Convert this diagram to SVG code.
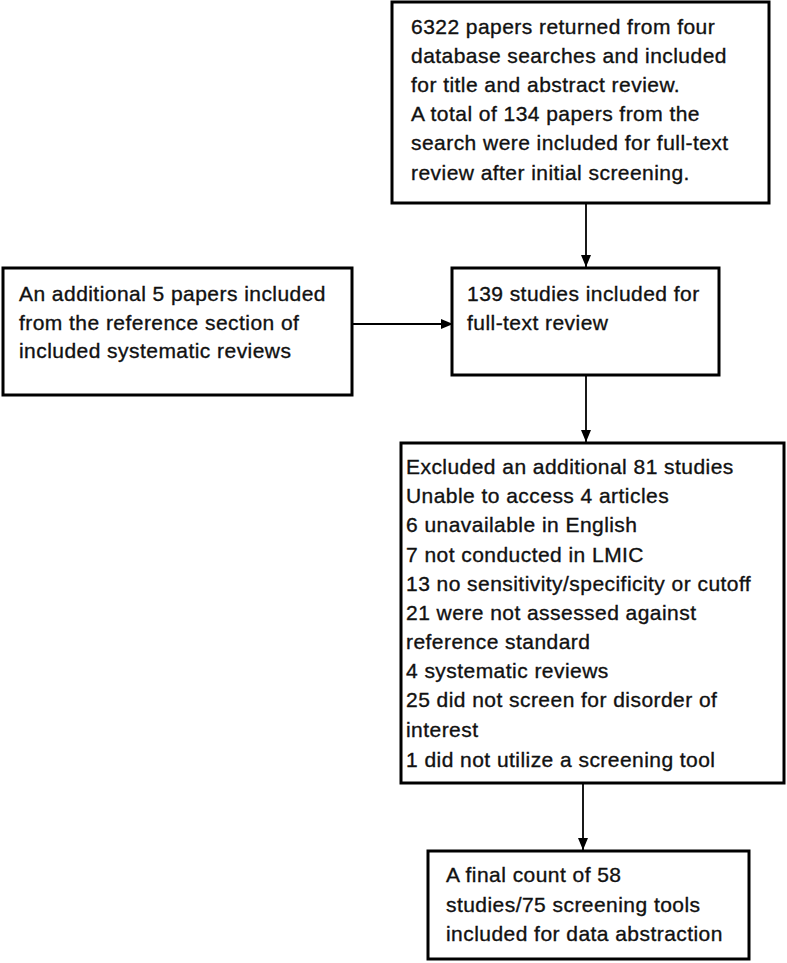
<svg xmlns="http://www.w3.org/2000/svg" width="787" height="963" viewBox="0 0 787 963">
<style>
.box{fill:#ffffff;stroke:#000000;stroke-width:3}
.t{font-family:"Liberation Sans",Arial,sans-serif;font-size:21px;letter-spacing:0.45px;fill:#111111;stroke:#111111;stroke-width:0.35px}
.c{stroke:#000000;stroke-width:1.8;fill:none}
</style>
<defs>
<marker id="ah" markerUnits="userSpaceOnUse" markerWidth="12" markerHeight="12" viewBox="0 0 12 12" refX="12" refY="6" orient="auto">
<path d="M0,1 L12,6 L0,11 Z" fill="#000000"/>
</marker>
</defs>
<rect width="787" height="963" fill="#ffffff"/>
<g id="connectors">
<line class="c" x1="586" y1="203" x2="586" y2="267" marker-end="url(#ah)"/>
<line class="c" x1="352" y1="324" x2="453" y2="324" marker-end="url(#ah)"/>
<line class="c" x1="586" y1="375" x2="586" y2="442" marker-end="url(#ah)"/>
<line class="c" x1="583" y1="783" x2="583" y2="850" marker-end="url(#ah)"/>
</g>
<g id="node-search">
<rect class="box" x="392" y="2" width="377" height="201"/>
<text class="t" x="411" y="34">6322 papers returned from four</text>
<text class="t" x="411" y="63">database searches and included</text>
<text class="t" x="411" y="92">for title and abstract review.</text>
<text class="t" x="411" y="121">A total of 134 papers from the</text>
<text class="t" x="411" y="150">search were included for full-text</text>
<text class="t" x="411" y="180">review after initial screening.</text>
</g>
<g id="node-additional">
<rect class="box" x="3" y="268" width="349" height="127"/>
<text class="t" x="19" y="301">An additional 5 papers included</text>
<text class="t" x="19" y="330">from the reference section of</text>
<text class="t" x="19" y="358">included systematic reviews</text>
</g>
<g id="node-fulltext">
<rect class="box" x="452" y="268" width="267" height="107"/>
<text class="t" x="467" y="301">139 studies included for</text>
<text class="t" x="467" y="330">full-text review</text>
</g>
<g id="node-excluded">
<rect class="box" x="401" y="443" width="383" height="340"/>
<text class="t" x="406" y="474">Excluded an additional 81 studies</text>
<text class="t" x="406" y="503">Unable to access 4 articles</text>
<text class="t" x="406" y="532">6 unavailable in English</text>
<text class="t" x="406" y="562">7 not conducted in LMIC</text>
<text class="t" x="406" y="591">13 no sensitivity/specificity or cutoff</text>
<text class="t" x="406" y="620">21 were not assessed against</text>
<text class="t" x="406" y="649">reference standard</text>
<text class="t" x="406" y="678">4 systematic reviews</text>
<text class="t" x="406" y="707">25 did not screen for disorder of</text>
<text class="t" x="406" y="737">interest</text>
<text class="t" x="406" y="767">1 did not utilize a screening tool</text>
</g>
<g id="node-final">
<rect class="box" x="428" y="851" width="321" height="108"/>
<text class="t" x="446" y="882">A final count of 58</text>
<text class="t" x="446" y="912">studies/75 screening tools</text>
<text class="t" x="446" y="941">included for data abstraction</text>
</g>
</svg>
